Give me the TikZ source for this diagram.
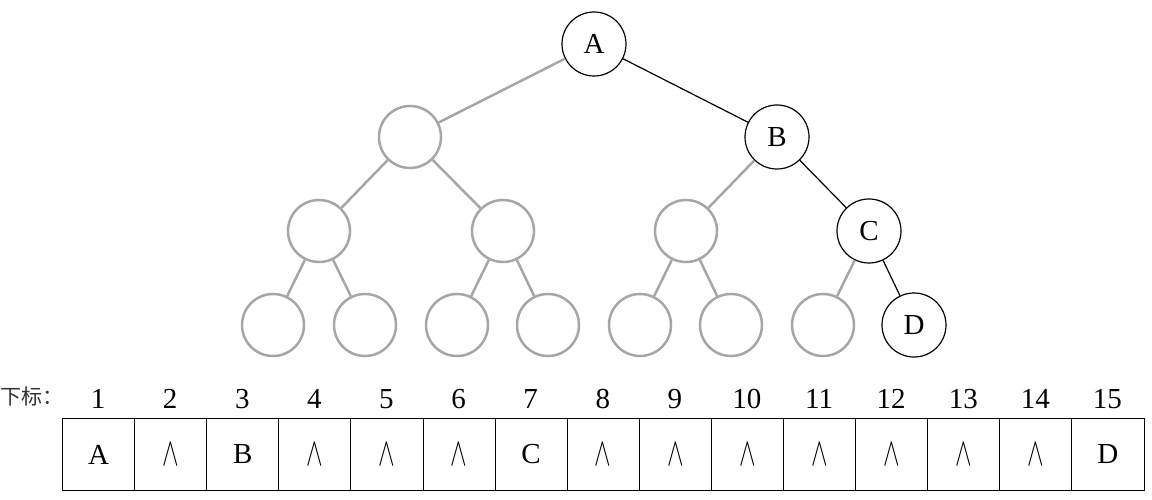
\documentclass[tikz,border=0pt]{standalone}
\usepackage{fontspec}
\setmainfont{Liberation Serif}
\newfontfamily\cjk{Noto Sans CJK SC}
\begin{document}
\begin{tikzpicture}[x=1pt,y=-1pt,
  bn/.style={circle,draw=black,line width=1.2pt,minimum size=64pt,inner sep=0pt,font=\fontsize{29}{31}\selectfont},
  gn/.style={circle,draw=black!35,line width=2.5pt,minimum size=62pt,inner sep=0pt},
  be/.style={draw=black,line width=1.2pt},
  ge/.style={draw=black!35,line width=2.5pt},
  cell/.style={draw=black,line width=1pt,minimum width=72.1pt,minimum height=72pt,inner sep=0pt,anchor=north west,font=\fontsize{29}{31}\selectfont},
  idx/.style={font=\fontsize{29}{31}\selectfont}]
\useasboundingbox (0,0) rectangle (1152,500);
\node[bn] (A) at (594,44) {A};
\node[bn] (B) at (777,137) {B};
\node[bn] (C) at (869,231) {C};
\node[bn] (D) at (914,325) {D};
\node[gn] (n2) at (410,137) {};
\node[gn] (n4) at (319,231) {};
\node[gn] (n5) at (503,231) {};
\node[gn] (n6) at (686,231) {};
\node[gn] (n8) at (273,325) {};
\node[gn] (n9) at (365,325) {};
\node[gn] (n10) at (457,325) {};
\node[gn] (n11) at (548,325) {};
\node[gn] (n12) at (640,325) {};
\node[gn] (n13) at (731,325) {};
\node[gn] (n14) at (823,325) {};
\draw[ge] (A) -- (n2);
\draw[ge] (n2) -- (n4); \draw[ge] (n2) -- (n5);
\draw[ge] (B) -- (n6);
\draw[ge] (n4) -- (n8); \draw[ge] (n4) -- (n9);
\draw[ge] (n5) -- (n10); \draw[ge] (n5) -- (n11);
\draw[ge] (n6) -- (n12); \draw[ge] (n6) -- (n13);
\draw[ge] (C) -- (n14);
\draw[be] (A) -- (B); \draw[be] (B) -- (C); \draw[be] (C) -- (D);
\node[font=\cjk\fontsize{21}{23}\selectfont,text=black!80,anchor=west,inner sep=0pt] (lbl) at (0,397) {下标：};
\foreach \i/\t in {1/A,2/{\scalebox{1}[1.6]{$\wedge$}},3/B,4/{\scalebox{1}[1.6]{$\wedge$}},5/{\scalebox{1}[1.6]{$\wedge$}},6/{\scalebox{1}[1.6]{$\wedge$}},7/C,8/{\scalebox{1}[1.6]{$\wedge$}},9/{\scalebox{1}[1.6]{$\wedge$}},10/{\scalebox{1}[1.6]{$\wedge$}},11/{\scalebox{1}[1.6]{$\wedge$}},12/{\scalebox{1}[1.6]{$\wedge$}},13/{\scalebox{1}[1.6]{$\wedge$}},14/{\scalebox{1}[1.6]{$\wedge$}},15/D}{
  \node[cell] (c\i) at ({62+(\i-1)*72.1},418) {\t};
  \node[idx] (i\i) at ({62+(\i-0.5)*72.1},399) {\i};
}
\end{tikzpicture}
\end{document}
